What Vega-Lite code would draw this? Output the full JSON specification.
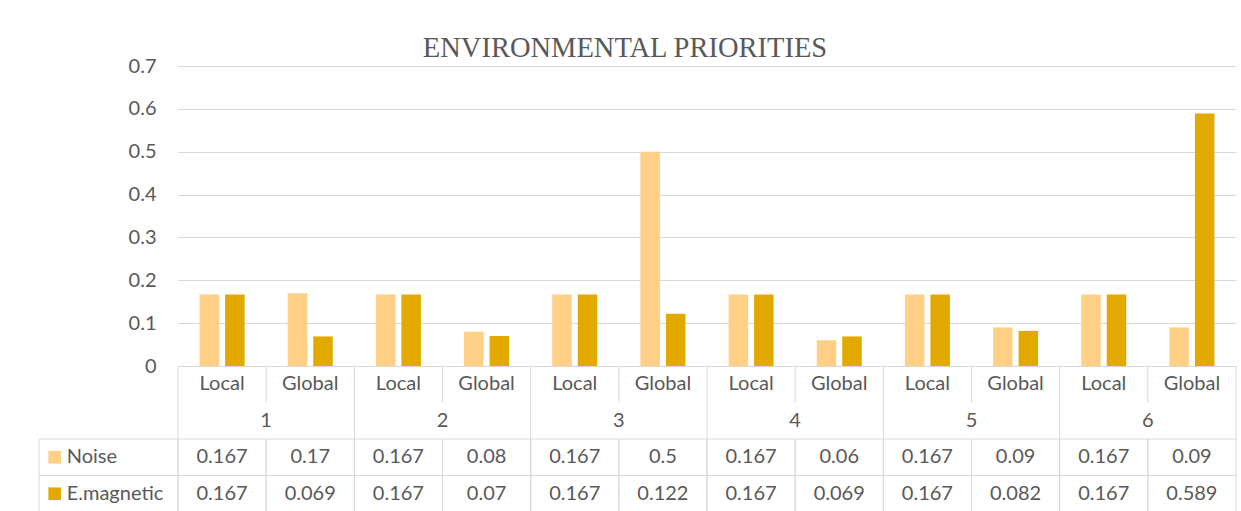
{
  "$schema": "https://vega.github.io/schema/vega-lite/v6.json",
  "background": "white",
  "padding": {"left": 38, "top": 33, "right": 0, "bottom": 0},
  "config": {"view": {"stroke": null}},
  "datasets": {
    "priorities": [
      {"col": "1 Local", "group": "1", "scope": "Local", "series": "Noise", "value": 0.167},
      {"col": "1 Local", "group": "1", "scope": "Local", "series": "E.magnetic", "value": 0.167},
      {"col": "1 Global", "group": "1", "scope": "Global", "series": "Noise", "value": 0.17},
      {"col": "1 Global", "group": "1", "scope": "Global", "series": "E.magnetic", "value": 0.069},
      {"col": "2 Local", "group": "2", "scope": "Local", "series": "Noise", "value": 0.167},
      {"col": "2 Local", "group": "2", "scope": "Local", "series": "E.magnetic", "value": 0.167},
      {"col": "2 Global", "group": "2", "scope": "Global", "series": "Noise", "value": 0.08},
      {"col": "2 Global", "group": "2", "scope": "Global", "series": "E.magnetic", "value": 0.07},
      {"col": "3 Local", "group": "3", "scope": "Local", "series": "Noise", "value": 0.167},
      {"col": "3 Local", "group": "3", "scope": "Local", "series": "E.magnetic", "value": 0.167},
      {"col": "3 Global", "group": "3", "scope": "Global", "series": "Noise", "value": 0.5},
      {"col": "3 Global", "group": "3", "scope": "Global", "series": "E.magnetic", "value": 0.122},
      {"col": "4 Local", "group": "4", "scope": "Local", "series": "Noise", "value": 0.167},
      {"col": "4 Local", "group": "4", "scope": "Local", "series": "E.magnetic", "value": 0.167},
      {"col": "4 Global", "group": "4", "scope": "Global", "series": "Noise", "value": 0.06},
      {"col": "4 Global", "group": "4", "scope": "Global", "series": "E.magnetic", "value": 0.069},
      {"col": "5 Local", "group": "5", "scope": "Local", "series": "Noise", "value": 0.167},
      {"col": "5 Local", "group": "5", "scope": "Local", "series": "E.magnetic", "value": 0.167},
      {"col": "5 Global", "group": "5", "scope": "Global", "series": "Noise", "value": 0.09},
      {"col": "5 Global", "group": "5", "scope": "Global", "series": "E.magnetic", "value": 0.082},
      {"col": "6 Local", "group": "6", "scope": "Local", "series": "Noise", "value": 0.167},
      {"col": "6 Local", "group": "6", "scope": "Local", "series": "E.magnetic", "value": 0.167},
      {"col": "6 Global", "group": "6", "scope": "Global", "series": "Noise", "value": 0.09},
      {"col": "6 Global", "group": "6", "scope": "Global", "series": "E.magnetic", "value": 0.589}
    ]
  },
  "bounds": "flush",
  "spacing": 0,
  "vconcat": [
    {
      "width": 1058,
      "height": 300,
      "title": {
        "text": "ENVIRONMENTAL PRIORITIES",
        "font": "Liberation Serif",
        "fontSize": 28.5,
        "fontWeight": "normal",
        "color": "#595959",
        "anchor": "middle",
        "frame": "group",
        "dx": -82,
        "offset": -6
      },
      "data": {"name": "priorities"},
      "mark": {"type": "bar"},
      "encoding": {
        "x": {
          "field": "col", "type": "nominal",
          "scale": {"domain": ["1 Local", "1 Global", "2 Local", "2 Global", "3 Local", "3 Global", "4 Local", "4 Global", "5 Local", "5 Global", "6 Local", "6 Global"], "paddingInner": 0, "paddingOuter": 0},
          "axis": null
        },
        "xOffset": {
          "field": "series", "type": "nominal",
          "scale": {"domain": ["Noise", "E.magnetic"], "paddingInner": 0.235, "paddingOuter": 0.846}
        },
        "y": {
          "field": "value", "type": "quantitative",
          "scale": {"domain": [0, 0.7], "nice": false},
          "axis": {
            "values": [0, 0.1, 0.2, 0.3, 0.4, 0.5, 0.6, 0.7],
            "format": "~g",
            "title": null,
            "domain": false,
            "ticks": false,
            "grid": true,
            "gridColor": "#d9d9d9",
            "gridWidth": 1,
            "labelFont": "Lato",
            "labelFontSize": 20,
            "labelColor": "#595959",
            "labelPadding": 22,
            "minExtent": 139,
            "maxExtent": 139
          }
        },
        "color": {
          "field": "series", "type": "nominal",
          "scale": {"domain": ["Noise", "E.magnetic"], "range": ["#FFD086", "#E2A900"]},
          "legend": null
        }
      }
    },
    {
      "width": 1058,
      "height": 146,
      "data": {"name": "priorities"},
      "resolve": {"scale": {"x": "independent"}},
      "layer": [
        {
          "mark": {"type": "rect", "fill": "transparent", "stroke": "#d9d9d9", "strokeWidth": 1},
          "encoding": {
            "x": {"field": "col", "type": "nominal", "scale": {"domain": ["1 Local", "1 Global", "2 Local", "2 Global", "3 Local", "3 Global", "4 Local", "4 Global", "5 Local", "5 Global", "6 Local", "6 Global"], "paddingInner": 0, "paddingOuter": 0}, "axis": null},
            "y": {"field": "series", "type": "nominal", "scale": {"domain": ["cat", "grp", "Noise", "E.magnetic"], "paddingInner": 0, "paddingOuter": 0}, "axis": null}
          }
        },
        {
          "mark": {"type": "text", "font": "Lato", "fontSize": 20, "color": "#595959"},
          "encoding": {
            "x": {"field": "col", "type": "nominal", "scale": {"domain": ["1 Local", "1 Global", "2 Local", "2 Global", "3 Local", "3 Global", "4 Local", "4 Global", "5 Local", "5 Global", "6 Local", "6 Global"], "paddingInner": 0, "paddingOuter": 0}, "axis": null},
            "y": {"field": "series", "type": "nominal", "axis": null},
            "text": {"field": "value", "type": "quantitative", "format": "~g"}
          }
        },
        {
          "transform": [{"filter": "datum.series == 'Noise'"}],
          "mark": {"type": "text", "font": "Lato", "fontSize": 20, "color": "#595959"},
          "encoding": {
            "x": {"field": "col", "type": "nominal", "scale": {"domain": ["1 Local", "1 Global", "2 Local", "2 Global", "3 Local", "3 Global", "4 Local", "4 Global", "5 Local", "5 Global", "6 Local", "6 Global"], "paddingInner": 0, "paddingOuter": 0}, "axis": null},
            "y": {"datum": "cat", "type": "nominal", "axis": null},
            "text": {"field": "scope", "type": "nominal"}
          }
        },
        {
          "transform": [{"filter": "datum.series == 'Noise' && datum.scope == 'Local'"}],
          "mark": {"type": "text", "font": "Lato", "fontSize": 20, "color": "#595959"},
          "encoding": {
            "x": {"field": "group", "type": "nominal", "scale": {"domain": ["1", "2", "3", "4", "5", "6"], "paddingInner": 0, "paddingOuter": 0}, "axis": null},
            "y": {"datum": "grp", "type": "nominal", "axis": null},
            "text": {"field": "group", "type": "nominal"}
          }
        },
        {
          "transform": [{"filter": "datum.series == 'Noise' && datum.scope == 'Local'"}],
          "mark": {"type": "rule", "color": "#d9d9d9", "strokeWidth": 1},
          "encoding": {
            "x": {"field": "col", "type": "nominal", "bandPosition": 0, "scale": {"domain": ["1 Local", "1 Global", "2 Local", "2 Global", "3 Local", "3 Global", "4 Local", "4 Global", "5 Local", "5 Global", "6 Local", "6 Global"], "paddingInner": 0, "paddingOuter": 0}, "axis": null},
            "y": {"datum": "cat", "type": "nominal", "bandPosition": 0, "axis": null},
            "y2": {"datum": "grp", "bandPosition": 1}
          }
        },
        {
          "transform": [{"filter": "datum.series == 'Noise' && datum.col == '6 Global'"}],
          "mark": {"type": "rule", "color": "#d9d9d9", "strokeWidth": 1},
          "encoding": {
            "x": {"field": "col", "type": "nominal", "bandPosition": 1, "scale": {"domain": ["1 Local", "1 Global", "2 Local", "2 Global", "3 Local", "3 Global", "4 Local", "4 Global", "5 Local", "5 Global", "6 Local", "6 Global"], "paddingInner": 0, "paddingOuter": 0}, "axis": null},
            "y": {"datum": "cat", "type": "nominal", "bandPosition": 0, "axis": null},
            "y2": {"datum": "grp", "bandPosition": 1}
          }
        },
        {
          "transform": [{"filter": "datum.series == 'Noise' && datum.scope == 'Global'"}],
          "mark": {"type": "rule", "color": "#d9d9d9", "strokeWidth": 1},
          "encoding": {
            "x": {"field": "col", "type": "nominal", "bandPosition": 0, "scale": {"domain": ["1 Local", "1 Global", "2 Local", "2 Global", "3 Local", "3 Global", "4 Local", "4 Global", "5 Local", "5 Global", "6 Local", "6 Global"], "paddingInner": 0, "paddingOuter": 0}, "axis": null},
            "y": {"datum": "cat", "type": "nominal", "bandPosition": 0, "axis": null},
            "y2": {"datum": "cat", "bandPosition": 1}
          }
        },
        {
          "transform": [{"filter": "datum.col == '1 Local'"}],
          "mark": {"type": "rect", "fill": "transparent", "stroke": "#d9d9d9", "strokeWidth": 1},
          "encoding": {
            "x": {"datum": "legend", "type": "nominal", "scale": {"domain": ["legend"], "range": [-139, 0], "paddingInner": 0, "paddingOuter": 0}, "axis": null},
            "y": {"field": "series", "type": "nominal", "axis": null}
          }
        },
        {
          "transform": [{"filter": "datum.col == '1 Local'"}],
          "mark": {"type": "point", "shape": "square", "filled": true, "size": 160, "opacity": 1},
          "encoding": {
            "x": {"datum": "key", "type": "nominal", "scale": {"type": "point", "domain": ["key", "name"], "range": [-123.3, -111.3], "padding": 0}, "axis": null},
            "y": {"field": "series", "type": "nominal", "axis": null},
            "color": {"field": "series", "type": "nominal", "scale": {"domain": ["Noise", "E.magnetic"], "range": ["#FFD086", "#E2A900"]}, "legend": null}
          }
        },
        {
          "transform": [{"filter": "datum.col == '1 Local'"}],
          "mark": {"type": "text", "font": "Lato", "fontSize": 20, "color": "#595959", "align": "left"},
          "encoding": {
            "x": {"datum": "name", "type": "nominal", "scale": {"type": "point", "domain": ["key", "name"], "range": [-123.3, -111.3], "padding": 0}, "axis": null},
            "y": {"field": "series", "type": "nominal", "axis": null},
            "text": {"field": "series", "type": "nominal"}
          }
        }
      ]
    }
  ]
}
